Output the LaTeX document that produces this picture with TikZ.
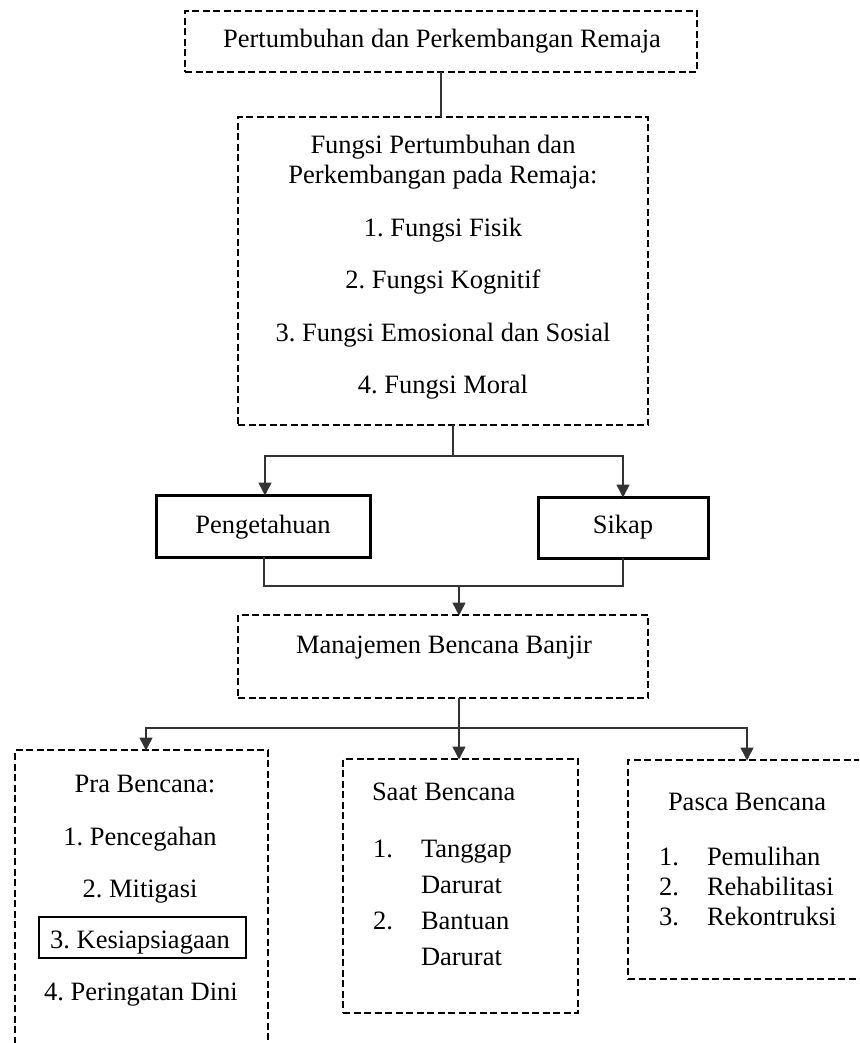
\documentclass[tikz,border=0pt]{standalone}
\usepackage{fontspec}
\setmainfont{Liberation Serif}
\usetikzlibrary{arrows.meta}
\frenchspacing
\begin{document}
\begin{tikzpicture}[x=1pt,y=-1pt,
  dbox/.style={draw=black, line width=2.6pt, dash pattern=on 7pt off 3.5pt, inner sep=0pt, outer sep=0pt},
  sbox/.style={draw=black, line width=3pt, inner sep=0pt, outer sep=0pt},
  txt/.style={inner sep=0pt, outer sep=0pt, font=\fontsize{26.5pt}{30pt}\selectfont},
  conn/.style={draw=black!80, line width=1.5pt},
  arr/.style={conn, -{Triangle[length=13pt,width=13pt]}, shorten >=-0.5pt}]
\useasboundingbox (0,0) rectangle (859,1043);
\clip (0,0) rectangle (859,1043);
\fill[white] (0,0) rectangle (859,1043);

% boxes
\node[dbox, minimum width=512pt, minimum height=61pt] (top) at (441,41.5) {};
\node[dbox, minimum width=410pt, minimum height=308pt] (fungsi) at (443,271) {};
\node[sbox, minimum width=214pt, minimum height=62pt] (peng) at (263,526) {};
\node[sbox, minimum width=170pt, minimum height=61pt] (sikap) at (623,527.5) {};
\node[dbox, minimum width=410pt, minimum height=83pt] (man) at (443,656.5) {};
\node[dbox, minimum width=253pt, minimum height=310pt] (pra) at (141.5,905) {};
\node[sbox, line width=2.6pt, minimum width=207pt, minimum height=41pt] (kes) at (142.5,937.5) {};
\node[dbox, minimum width=235pt, minimum height=254pt] (saat) at (460.5,886) {};
\node[dbox, minimum width=238pt, minimum height=219pt] (pasca) at (747,869.5) {};

% texts
\node[txt, anchor=base] (ttop) at (442,48) {Pertumbuhan dan Perkembangan Remaja};
\node[txt, anchor=base] (tf1) at (443,154) {Fungsi Pertumbuhan dan};
\node[txt, anchor=base] (tf2) at (443,183) {Perkembangan pada Remaja:};
\node[txt, anchor=base] (tf3) at (443,236) {1. Fungsi Fisik};
\node[txt, anchor=base] (tf4) at (443,288) {2. Fungsi Kognitif};
\node[txt, anchor=base] (tf5) at (443,341) {3. Fungsi Emosional dan Sosial};
\node[txt, anchor=base] (tf6) at (443,393) {4. Fungsi Moral};
\node[txt, anchor=base] (tpeng) at (263,533) {Pengetahuan};
\node[txt, anchor=base] (tsikap) at (623,533) {Sikap};
\node[txt, anchor=base] (tman) at (444,653) {Manajemen Bencana Banjir};

\node[txt, anchor=base] (tp0) at (145,792) {Pra Bencana:};
\node[txt, anchor=base] (tp1) at (140,845) {1. Pencegahan};
\node[txt, anchor=base] (tp2) at (140,897) {2. Mitigasi};
\node[txt, anchor=base] (tp3) at (140,948) {3. Kesiapsiagaan};
\node[txt, anchor=base] (tp4) at (141,1000) {4. Peringatan Dini};

\node[txt, anchor=base west] (ts0) at (372,800) {Saat Bencana};
\node[txt, anchor=base west] (ts1n) at (373,857) {1.};
\node[txt, anchor=base west] (ts1a) at (421,857) {Tanggap};
\node[txt, anchor=base west] (ts1b) at (421,893) {Darurat};
\node[txt, anchor=base west] (ts2n) at (373,929) {2.};
\node[txt, anchor=base west] (ts2a) at (421,929) {Bantuan};
\node[txt, anchor=base west] (ts2b) at (421,965) {Darurat};

\node[txt, anchor=base west] (tq0) at (668,810) {Pasca Bencana};
\node[txt, anchor=base west] (tq1n) at (659,865) {1.};
\node[txt, anchor=base west] (tq1) at (707,865) {Pemulihan};
\node[txt, anchor=base west] (tq2n) at (659,895) {2.};
\node[txt, anchor=base west] (tq2) at (707,895) {Rehabilitasi};
\node[txt, anchor=base west] (tq3n) at (659,925) {3.};
\node[txt, anchor=base west] (tq3) at (707,925) {Rekontruksi};

% connectors
\draw[conn] (top.south) -- (fungsi.north -| top.south);
\coordinate (j1) at (453,456);
\draw[conn] (fungsi.south -| j1) -- (j1);
\draw[arr] (j1) -| ([xshift=2pt]peng.north);
\draw[arr] (j1) -| (sikap.north);
\coordinate (j2) at (459,586);
\draw[conn] ([xshift=1pt]peng.south) |- (j2);
\draw[conn] (sikap.south) |- (j2);
\draw[arr] (j2) -- (man.north -| j2);
\coordinate (j3) at (459,728);
\draw[conn] (man.south -| j3) -- (j3);
\draw[arr] (j3) -| ([xshift=4.5pt]pra.north);
\draw[arr] (j3) -- (saat.north -| j3);
\draw[arr] (j3) -| (pasca.north);
\end{tikzpicture}
\end{document}
